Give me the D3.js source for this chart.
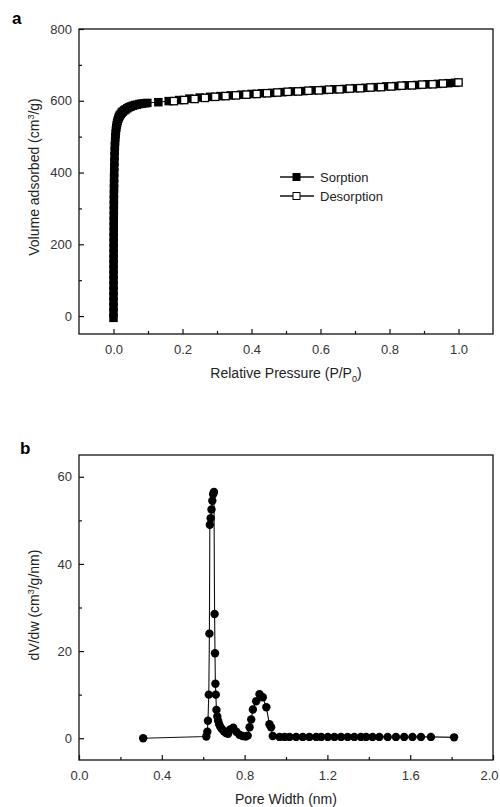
<!DOCTYPE html>
<html>
<head>
<meta charset="utf-8">
<script src="https://cdn.jsdelivr.net/npm/d3@7"></script>
<style>
  body { margin: 0; background: #fff; }
  svg { font-family: "Liberation Sans", Arial, sans-serif; }
</style>
</head>
<body>
<div id="chart"></div>
<script>
// panel a - isotherm
var sorptionP = [0.0000, 0.0000, 0.0001, 0.0001, 0.0001, 0.0001, 0.0002, 0.0002, 0.0002, 0.0003, 0.0003, 0.0003,
  0.0004, 0.0004, 0.0005, 0.0005, 0.0006, 0.0007, 0.0007, 0.0008, 0.0009, 0.0010, 0.0011, 0.0012, 0.0014,
  0.0016, 0.0018, 0.0020, 0.0023, 0.0026, 0.0030, 0.0035, 0.0040, 0.0046, 0.0053, 0.0061, 0.0070, 0.0080,
  0.0092, 0.0105, 0.012, 0.014, 0.016, 0.018, 0.021, 0.024, 0.027, 0.031, 0.035, 0.040, 0.045, 0.050,
  0.056, 0.062, 0.068, 0.075, 0.082, 0.090, 0.098,
  0.13, 0.16, 0.19, 0.22, 0.25, 0.28, 0.31, 0.34, 0.37, 0.40, 0.43, 0.46, 0.49, 0.52, 0.55, 0.58, 0.61,
  0.64, 0.67, 0.70, 0.73, 0.76, 0.79, 0.82, 0.85, 0.88, 0.91, 0.94, 0.97, 0.99];
var sorptionV = [-5, 10, 25, 40, 55, 70, 85, 100, 115, 130, 145, 160,
  175, 190, 205, 220, 235, 250, 265, 280, 295, 310, 325, 340, 355,
  370, 385, 400, 415, 430, 445, 460, 474, 487, 498, 508, 517, 525,
  532, 538, 544, 550, 555, 559, 563, 567, 570, 573, 576, 579, 582, 584,
  586, 588, 589, 591, 592, 593, 594,
  596, 599, 602, 606, 609, 611, 613, 615, 617, 619, 621, 622, 624, 626, 627, 629, 630,
  632, 633, 635, 636, 638, 640, 641, 643, 644, 646, 647, 649, 650];
var desorptionP = [1.00, 0.955, 0.925, 0.895, 0.865, 0.835, 0.805, 0.775, 0.745, 0.715, 0.685, 0.655, 0.625,
  0.595, 0.565, 0.535, 0.505, 0.475, 0.445, 0.415, 0.385, 0.355, 0.325, 0.295, 0.265, 0.235, 0.205, 0.175];
var desorptionV = [651, 648, 646, 645, 643, 642, 640, 638, 637, 635, 634, 632, 631,
  629, 628, 626, 625, 623, 621, 619, 617, 615, 613, 611, 608, 605, 602, 599];

// panel b - pore size distribution
var poreWidth = [0.31, 0.615, 0.620, 0.623, 0.627, 0.630, 0.632, 0.636, 0.640, 0.644, 0.648, 0.652,
  0.655, 0.657, 0.659, 0.661, 0.664, 0.668, 0.672, 0.677, 0.683, 0.690, 0.700, 0.710, 0.720,
  0.730, 0.745, 0.760, 0.775, 0.790, 0.805, 0.815, 0.824, 0.832, 0.840, 0.856, 0.872, 0.888, 0.905, 0.920, 0.928,
  0.936, 0.969, 0.993, 1.017, 1.049, 1.081, 1.113, 1.146, 1.170, 1.202, 1.234, 1.266, 1.298, 1.330,
  1.362, 1.387, 1.418, 1.451, 1.491, 1.531, 1.571, 1.611, 1.652, 1.700, 1.812];
var dVdw = [0.0, 0.4, 1.5, 4.0, 10.0, 24.0, 49.0, 50.5, 52.5, 54.5, 56.0, 56.5,
  28.5, 19.5, 12.5, 10.0, 6.5, 5.0, 4.0, 3.2, 2.6, 2.1, 1.6, 1.2, 1.0,
  2.0, 2.4, 1.5, 0.8, 0.5, 0.4, 0.6, 2.5, 4.3, 6.6, 8.5, 10.1, 9.4, 7.1, 3.2, 2.5,
  0.5, 0.3, 0.3, 0.3, 0.3, 0.3, 0.3, 0.3, 0.3, 0.3, 0.3, 0.3, 0.3, 0.3,
  0.3, 0.3, 0.3, 0.3, 0.3, 0.3, 0.3, 0.3, 0.3, 0.3, 0.2];

var width = 500, height = 807;
var svg = d3.select('#chart').append('svg')
    .attr('width', width)
    .attr('height', height);

function panel(opts) {
    var g = svg.append('g');
    var x = d3.scaleLinear().domain(opts.xDomain).range([79, 493]);
    var y = d3.scaleLinear().domain(opts.yDomain).range([opts.bottom, opts.top]);

    // minor + major ticks, inward
    var xMinor = d3.axisBottom(x).tickValues(opts.xMinor).tickSize(-3).tickFormat('');
    var xMajor = d3.axisBottom(x).tickValues(opts.xTicks).tickSize(-5).tickPadding(11)
        .tickFormat(d3.format('.1f'));
    var yMinor = d3.axisLeft(y).tickValues(opts.yMinor).tickSize(-3).tickFormat('');
    var yMajor = d3.axisLeft(y).tickValues(opts.yTicks).tickSize(-5).tickPadding(7)
        .tickFormat(d3.format('d'));

    g.append('g').attr('transform', 'translate(0,' + opts.bottom + ')').call(xMinor);
    var xa = g.append('g').attr('class', 'xa').attr('transform', 'translate(0,' + opts.bottom + ')').call(xMajor);
    g.append('g').attr('transform', 'translate(79,0)').call(yMinor);
    g.append('g').attr('class', 'ya').attr('transform', 'translate(79,0)').call(yMajor);
    g.selectAll('.domain').remove();
    g.selectAll('.tick line').attr('stroke', '#111').attr('stroke-width', 1.2);
    g.selectAll('.tick text').attr('fill', '#333').style('font-size', '13px');

    g.append('rect')
        .attr('x', 79).attr('y', opts.top)
        .attr('width', 414).attr('height', opts.bottom - opts.top)
        .attr('fill', 'none').attr('stroke', '#111').attr('stroke-width', 1.3);

    g.append('text')
        .attr('x', opts.labelX).attr('y', opts.labelY)
        .style('font-size', '17px').style('font-weight', 'bold')
        .text(opts.label);

    return {g: g, x: x, y: y, xa: xa};
}

// ---------- panel a
var a = panel({
    xDomain: [-0.1, 1.1], yDomain: [-50, 800], top: 29, bottom: 334,
    xTicks: [0, 0.2, 0.4, 0.6, 0.8, 1.0], xMinor: [0.1, 0.3, 0.5, 0.7, 0.9],
    yTicks: [0, 200, 400, 600, 800], yMinor: [100, 300, 500, 700],
    label: 'a', labelX: 12, labelY: 24
});

var sorp = sorptionP.map(function(p, i) { return [p, sorptionV[i]]; });
var desp = desorptionP.map(function(p, i) { return [p, desorptionV[i]]; });
var lineA = d3.line().x(function(d) { return a.x(d[0]); }).y(function(d) { return a.y(d[1]); });

a.g.append('path').attr('d', lineA(sorp)).attr('fill', 'none').attr('stroke', '#111').attr('stroke-width', 1);
a.g.append('path').attr('d', lineA(desp)).attr('fill', 'none').attr('stroke', '#111').attr('stroke-width', 1);

var sq = 8.5;
a.g.selectAll('rect.sorp').data(sorp).enter().append('rect')
    .attr('class', 'sorp')
    .attr('x', function(d) { return a.x(d[0]) - sq / 2; })
    .attr('y', function(d) { return a.y(d[1]) - sq / 2; })
    .attr('width', sq).attr('height', sq)
    .attr('fill', '#000');

a.g.selectAll('rect.desp').data(desp).enter().append('rect')
    .attr('class', 'desp')
    .attr('x', function(d) { return a.x(d[0]) - sq / 2 + 0.6; })
    .attr('y', function(d) { return a.y(d[1]) - sq / 2 + 0.6; })
    .attr('width', sq - 1.2).attr('height', sq - 1.2)
    .attr('fill', '#fff').attr('stroke', '#000').attr('stroke-width', 1.3);

// legend
var legend = [{name: 'Sorption', fill: '#000'}, {name: 'Desorption', fill: '#fff'}];
var lg = a.g.selectAll('g.legend').data(legend).enter().append('g')
    .attr('class', 'legend')
    .attr('transform', function(d, i) { return 'translate(280,' + (177 + i * 19) + ')'; });
lg.append('line').attr('x1', 0).attr('x2', 34).attr('stroke', '#111').attr('stroke-width', 1.3);
lg.append('rect').attr('x', 13).attr('y', -3.5).attr('width', 7).attr('height', 7)
    .attr('fill', function(d) { return d.fill; }).attr('stroke', '#000').attr('stroke-width', 1);
lg.append('text').attr('x', 40).attr('dy', '0.35em').style('font-size', '13px').attr('fill', '#222')
    .text(function(d) { return d.name; });

// axis titles
var tA = a.g.append('text')
    .attr('x', 286).attr('y', 378)
    .attr('text-anchor', 'middle').style('font-size', '14px').attr('fill', '#222');
tA.append('tspan').text('Relative Pressure (P/P');
tA.append('tspan').attr('dy', 4).style('font-size', '9px').text('0');
tA.append('tspan').attr('dy', -4).text(')');

var yA = a.g.append('text')
    .attr('transform', 'translate(39,177) rotate(-90)')
    .attr('text-anchor', 'middle').style('font-size', '14px').attr('fill', '#222');
yA.append('tspan').text('Volume adsorbed (cm');
yA.append('tspan').attr('dy', -5).style('font-size', '9px').text('3');
yA.append('tspan').attr('dy', 5).text('/g)');

// ---------- panel b
var b = panel({
    xDomain: [0, 2], yDomain: [-5, 65], top: 455, bottom: 760,
    xTicks: [0, 0.4, 0.8, 1.2, 1.6, 2.0], xMinor: [0.2, 0.6, 1.0, 1.4, 1.8],
    yTicks: [0, 20, 40, 60], yMinor: [10, 30, 50],
    label: 'b', labelX: 20, labelY: 454
});
// last label sits on the window edge, nudge it in
b.xa.selectAll('.tick text').filter(function(d) { return d === 2; }).attr('dx', -4);

var psd = poreWidth.map(function(w, i) { return [w, dVdw[i]]; });
var lineB = d3.line().x(function(d) { return b.x(d[0]); }).y(function(d) { return b.y(d[1]); });
b.g.append('path').attr('d', lineB(psd)).attr('fill', 'none').attr('stroke', '#111').attr('stroke-width', 1.1);
b.g.selectAll('circle').data(psd).enter().append('circle')
    .attr('cx', function(d) { return b.x(d[0]); })
    .attr('cy', function(d) { return b.y(d[1]); })
    .attr('r', 4.2)
    .attr('fill', '#000');

b.g.append('text')
    .attr('x', 286).attr('y', 804)
    .attr('text-anchor', 'middle').style('font-size', '14px').attr('fill', '#222')
    .text('Pore Width (nm)');

var yB = b.g.append('text')
    .attr('transform', 'translate(39,605) rotate(-90)')
    .attr('text-anchor', 'middle').style('font-size', '14px').attr('fill', '#222');
yB.append('tspan').text('dV/dw (cm');
yB.append('tspan').attr('dy', -5).style('font-size', '9px').text('3');
yB.append('tspan').attr('dy', 5).text('/g/nm)');
</script>
</body>
</html>
